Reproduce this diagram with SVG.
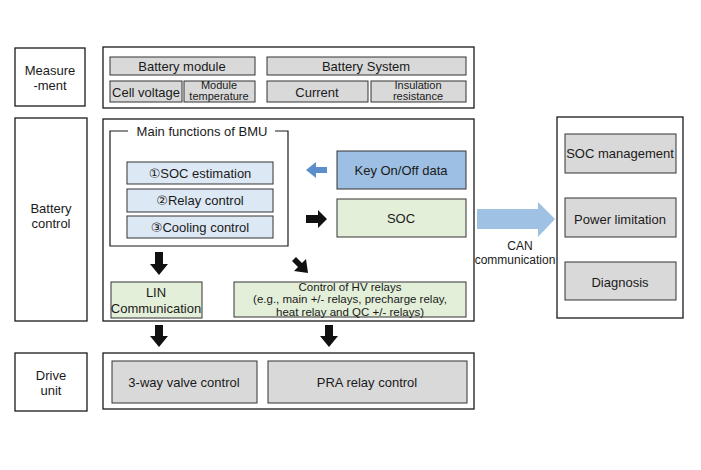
<svg xmlns="http://www.w3.org/2000/svg" width="701" height="470" viewBox="0 0 701 470">
<style>
text{font-family:"Liberation Sans","DejaVu Sans",Arial,sans-serif;font-size:13px;fill:#1a1a1a;text-anchor:middle}
.s{font-size:11px}
.m{font-size:12px}
.r{font-size:11.5px}
.outer{fill:#fff;stroke:#1a1a1a;stroke-width:1.3}
.gray{fill:#d9d9d9;stroke:#333;stroke-width:1}
.lblue{fill:#dde8f5;stroke:#333;stroke-width:1}
.green{fill:#e3efd9;stroke:#333;stroke-width:1}
.key{fill:#9dbfe3;stroke:#333;stroke-width:1}
.blk{fill:#111}
</style>
<rect width="701" height="470" fill="#fff"/>
<g id="measure-label"><rect class="outer" x="15" y="48" width="70" height="58"/><text x="50" y="75">Measure</text><text x="50" y="90">-ment</text></g>
<g id="battery-control-label"><rect class="outer" x="15" y="118" width="72" height="203"/><text x="51" y="213">Battery</text><text x="51" y="228">control</text></g>
<g id="drive-unit-label"><rect class="outer" x="15" y="353" width="72" height="58"/><text x="51" y="380">Drive</text><text x="51" y="395">unit</text></g>
<g id="measurement"><rect class="outer" x="103" y="47" width="371" height="61"/>
<rect class="gray" x="110" y="57" width="145" height="18"/><text x="182" y="71">Battery module</text>
<rect class="gray" x="267" y="57" width="199" height="18"/><text x="366" y="71">Battery System</text>
<rect class="gray" x="110" y="81" width="72" height="21"/><text x="146" y="97">Cell voltage</text>
<rect class="gray" x="184" y="81" width="71" height="21"/><text class="s" x="219" y="89">Module</text><text class="s" x="219" y="100">temperature</text>
<rect class="gray" x="267" y="81" width="101" height="21"/><text x="317" y="97">Current</text>
<rect class="gray" x="371" y="81" width="95" height="21"/><text class="s" x="418" y="89">Insulation</text><text class="s" x="418" y="100">resistance</text>
</g>
<g id="battery-control"><rect class="outer" x="103" y="119" width="371" height="202"/></g>
<g id="main-functions"><path d="M128 131H110V246H288V131H275" fill="none" stroke="#1a1a1a" stroke-width="1.2"/><text x="202" y="136">Main functions of BMU</text>
<rect class="lblue" x="127" y="162" width="146" height="22"/><text x="200" y="178">①SOC estimation</text>
<rect class="lblue" x="127" y="189" width="146" height="23"/><text x="200" y="205">②Relay control</text>
<rect class="lblue" x="127" y="216" width="146" height="22"/><text x="200" y="232">③Cooling control</text>
</g>
<g id="key-data"><rect class="key" x="337" y="151" width="129" height="38"/><text x="401" y="175">Key On/Off data</text></g>
<g id="soc"><rect class="green" x="337" y="199" width="129" height="38"/><text x="401" y="223">SOC</text></g>
<g id="lin"><rect class="green" x="111" y="282" width="91" height="36"/><text x="156" y="297">LIN</text><text x="156" y="313">Communication</text></g>
<g id="hv-relays"><rect class="green" x="234" y="282" width="232" height="35"/><text class="r" x="350" y="290.5">Control of HV relays</text><text class="r" x="350" y="303">(e.g., main +/- relays, precharge relay,</text><text class="r" x="350" y="315.5">heat relay and QC +/- relays)</text></g>
<g id="drive-unit"><rect class="outer" x="103" y="353" width="371" height="56"/>
<rect class="gray" x="112" y="361" width="145" height="42"/><text x="184" y="387">3-way valve control</text>
<rect class="gray" x="268" y="361" width="199" height="42"/><text x="367" y="387">PRA relay control</text>
</g>
<g id="vehicle"><rect class="outer" x="557" y="117" width="126" height="201"/>
<rect class="gray" x="565" y="134" width="111" height="39"/><text x="620" y="158">SOC management</text>
<rect class="gray" x="565" y="198" width="111" height="39"/><text x="620" y="224">Power limitation</text>
<rect class="gray" x="565" y="262" width="111" height="38"/><text x="620" y="287">Diagnosis</text>
</g>
<g id="connectors">
<path d="M306 170L316 162V167H327V173H316V178Z" fill="#5b8fcb"/>
<path d="M327 219L318 210V215H306V223H318V228Z" class="blk"/>
<path d="M159 275L150 264H155V252H163V264H168Z" class="blk"/>
<path d="M308 273L306 259L302 263L296 257L292 261L298 267L294 271Z" class="blk"/>
<path d="M159 347L150 336H155V325H163V336H168Z" class="blk"/>
<path d="M329 347L320 336H325V325H333V336H338Z" class="blk"/>
<path d="M477 209H538V202L555 219L538 237V229H477Z" fill="#9fc2e4"/>
<text class="m" x="520" y="250">CAN</text><text class="m" x="515" y="264">communication</text>
</g>
</svg>
